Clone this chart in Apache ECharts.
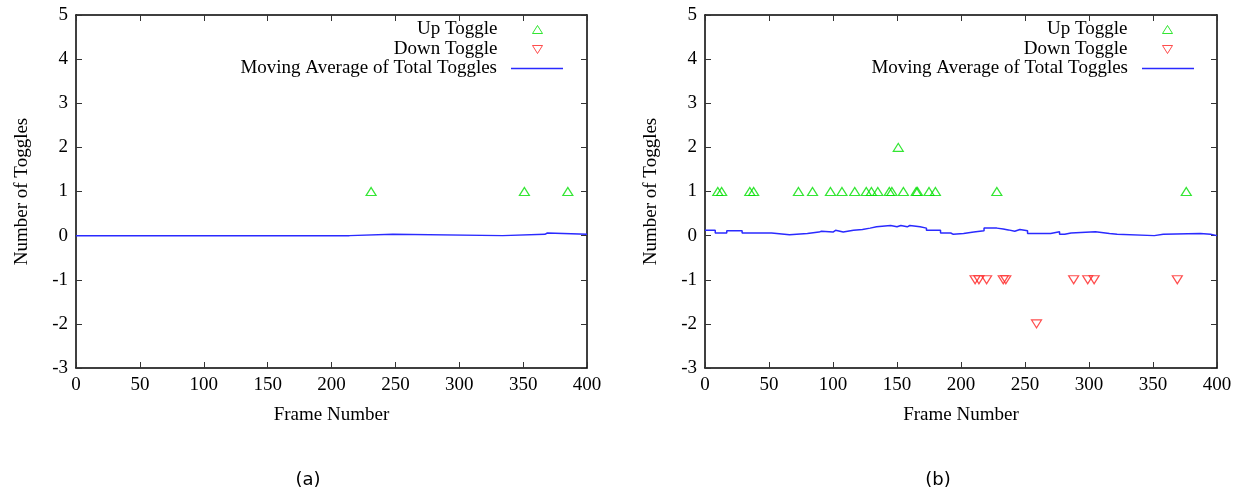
<!DOCTYPE html>
<html>
<head>
<meta charset="utf-8">
<script src="https://cdn.jsdelivr.net/npm/echarts@6/dist/echarts.min.js"></script>
<style>
html,body{margin:0;padding:0;background:#fff;}
#chart{width:1241px;height:494px;}
</style>
</head>
<body>
<div id="chart"></div>
<script>
// panel (a)
const upFramesA = [231, 351, 385];
const upValuesA = [1, 1, 1];
const maFramesA = [0, 214, 248, 334, 367, 369, 400];
const maValuesA = [0, 0.03, 0, 0.03, 0.06, 0.03, 0.03];

// panel (b)
const upFramesB = [10, 13, 35, 38, 73, 84, 98, 107, 117, 126, 130, 135, 144, 146, 151, 155, 165, 166, 175, 180, 228, 376];
const upValuesB = [1, 1, 1, 1, 1, 1, 1, 1, 1, 1, 1, 1, 1, 1, 2, 1, 1, 1, 1, 1, 1, 1];
const downFramesB = [211, 214, 220, 233, 235, 259, 288, 299, 304, 369];
const downValuesB = [-1, -1, -1, -1, -1, -2, -1, -1, -1, -1];
const maFramesB = [0, 8, 17, 29, 52, 66, 80, 89, 91, 100, 102, 108, 116, 123, 129, 134, 145, 150, 153, 158, 160, 168, 173, 184, 192, 194, 202, 210, 218, 228, 233, 237, 242, 246, 252, 270, 277, 281, 286, 305, 316, 322, 351, 358, 387, 395, 400];
const maValuesB = [0.12, 0.06, 0.11, 0.06, 0.02, 0.05, 0.08, 0.1, 0.08, 0.12, 0.08, 0.12, 0.14, 0.17, 0.2, 0.23, 0.2, 0.23, 0.2, 0.23, 0.2, 0.17, 0.12, 0.06, 0.03, 0.05, 0.08, 0.11, 0.17, 0.15, 0.13, 0.1, 0.14, 0.11, 0.05, 0.09, 0.03, 0.06, 0.09, 0.05, 0.03, 0, 0.03, 0.05, 0.03, 0, 0];

const xMin = 0, xMax = 400, xStep = 50;
const yMin = -3, yMax = 5, yStep = 1;

const serif = 'Liberation Serif';
const zip = (a, b) => a.map((v, i) => [v, b[i]]);
// each value holds from its frame until the next one (stairs)
const stairs = (f, v) => {
  const out = [];
  f.forEach((x, i) => {
    if (i > 0) out.push([x, v[i - 1]]);
    out.push([x, v[i]]);
  });
  return out;
};

const green = '#00e000';
const red = '#ff2020';
const blue = '#2a2aff';

function xAx(grid, pos, labels) {
  return {
    type: 'value', gridIndex: grid, position: pos,
    min: xMin, max: xMax, interval: xStep,
    axisLine: {show: true, onZero: false, lineStyle: {color: '#000', width: 1.5}},
    axisTick: {show: true, inside: true, length: 6, lineStyle: {color: '#333', width: 1}},
    axisLabel: {show: labels, color: '#000', fontFamily: serif, fontSize: 19, margin: 8},
    splitLine: {show: false},
    name: labels ? 'Frame Number' : '',
    nameLocation: 'middle', nameGap: 38,
    nameTextStyle: {color: '#000', fontFamily: serif, fontSize: 19}
  };
}
function yAx(grid, pos, labels) {
  return {
    type: 'value', gridIndex: grid, position: pos,
    min: yMin, max: yMax, interval: yStep,
    axisLine: {show: true, onZero: false, lineStyle: {color: '#000', width: 1.5}},
    axisTick: {show: true, inside: true, length: 6, lineStyle: {color: '#333', width: 1}},
    axisLabel: {show: labels, color: '#000', fontFamily: serif, fontSize: 19, margin: 8},
    splitLine: {show: false},
    name: labels ? 'Number of Toggles' : '',
    nameLocation: 'middle', nameGap: 44,
    nameTextStyle: {color: '#000', fontFamily: serif, fontSize: 19}
  };
}

function upSeries(xi, data) {
  return {
    name: 'Up Toggle', type: 'scatter', xAxisIndex: xi, yAxisIndex: xi,
    data: data, symbol: 'triangle', symbolSize: [10, 8],
    itemStyle: {color: 'rgba(255,255,255,0)', borderColor: green, borderWidth: 1.2}
  };
}
function downSeries(xi, data) {
  return {
    name: 'Down Toggle', type: 'scatter', xAxisIndex: xi, yAxisIndex: xi,
    data: data, symbol: 'triangle', symbolRotate: 180, symbolSize: [10, 8],
    itemStyle: {color: 'rgba(255,255,255,0)', borderColor: red, borderWidth: 1.2}
  };
}
function maSeries(xi, data) {
  return {
    name: 'Moving Average of Total Toggles', type: 'line', xAxisIndex: xi, yAxisIndex: xi,
    data: data, showSymbol: false, symbol: 'none',
    lineStyle: {color: blue, width: 1.5}, itemStyle: {color: blue}
  };
}

// one legend per row so the texts line up on the right like gnuplot's key
function legendRow(name, right, top, icon, w, h, gap) {
  return {
    data: [name], orient: 'vertical', align: 'right', right: right, top: top,
    padding: 0, itemWidth: w, itemHeight: h, selectedMode: false, icon: icon,
    itemStyle: {borderWidth: 1},
    formatter: n => '{t|' + n + '}',
    textStyle: {color: '#000', fontFamily: serif, fontSize: 19,
      rich: {t: {fontFamily: serif, fontSize: 19, color: '#000', padding: [0, gap, 0, 0]}}}
  };
}
const upIcon = 'path://M5,0 L10,8 L0,8 Z';
const downIcon = 'path://M0,0 L10,0 L5,8 Z';

const chart = echarts.init(document.getElementById('chart'));
chart.setOption({
  animation: false,
  backgroundColor: '#fff',
  grid: [
    {left: 76, right: 654, top: 15, bottom: 126},
    {left: 705, right: 24, top: 15, bottom: 126}
  ],
  xAxis: [xAx(0, 'bottom', true), xAx(0, 'top', false), xAx(1, 'bottom', true), xAx(1, 'top', false)],
  yAxis: [yAx(0, 'left', true), yAx(0, 'right', false), yAx(1, 'left', true), yAx(1, 'right', false)],
  legend: [
    legendRow('Up Toggle', 698, 20, upIcon, 10, 8, 30),
    legendRow('Down Toggle', 698, 40, downIcon, 10, 8, 30),
    legendRow('Moving Average of Total Toggles', 678, 59, 'rect', 52, 1.5, 9),
    legendRow('Up Toggle', 68, 20, upIcon, 10, 8, 30),
    legendRow('Down Toggle', 68, 40, downIcon, 10, 8, 30),
    legendRow('Moving Average of Total Toggles', 47, 59, 'rect', 52, 1.5, 9)
  ],
  graphic: [
    {type: 'text', x: 308, y: 480, style: {text: '(a)', align: 'center', verticalAlign: 'middle', fontFamily: 'DejaVu Sans', fontSize: 18, fill: '#000'}},
    {type: 'text', x: 938, y: 480, style: {text: '(b)', align: 'center', verticalAlign: 'middle', fontFamily: 'DejaVu Sans', fontSize: 18, fill: '#000'}}
  ],
  series: [
    upSeries(0, zip(upFramesA, upValuesA)),
    downSeries(0, []),
    maSeries(0, stairs(maFramesA, maValuesA)),
    upSeries(2, zip(upFramesB, upValuesB)),
    downSeries(2, zip(downFramesB, downValuesB)),
    maSeries(2, stairs(maFramesB, maValuesB))
  ]
});
</script>
</body>
</html>
